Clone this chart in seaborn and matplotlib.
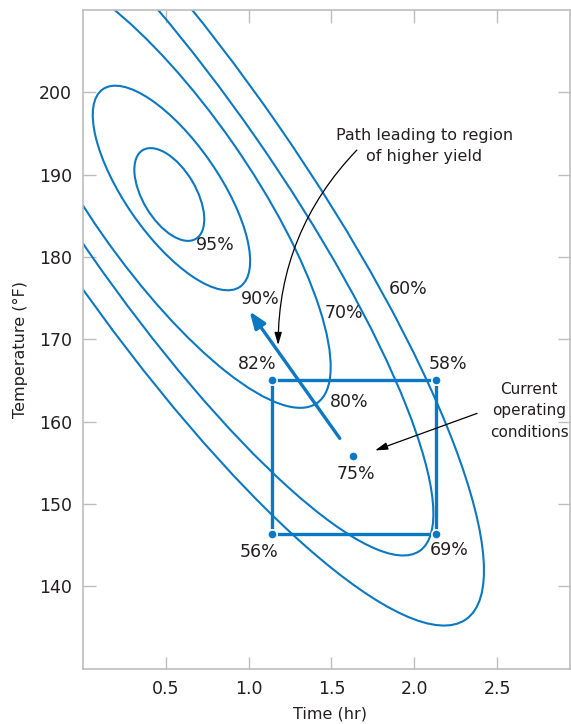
# Contours of yield with the current operating conditions and the path of steepest ascent.

import numpy as np
import matplotlib
matplotlib.use("Agg")
import matplotlib.pyplot as plt
import seaborn as sns
import pandas as pd
from matplotlib.patches import Ellipse
from matplotlib.transforms import Affine2D

# Yield contours
levels = ["95%", "90%", "80%", "70%", "60%"]
center_time = [0.521, 0.534, 0.509, 0.544, 0.546]
center_temp = [187.59, 188.38, 188.33, 187.41, 187.27]
semi_major = [0.312, 0.726, 1.580, 2.609, 3.101]   # in hours
semi_minor = [0.160, 0.283, 0.481, 0.611, 0.767]   # in hours
tilt = [-59.1, -55.2, -55.1, -55.2, -55.3]          # degrees
label_time = [0.800, 1.072, 1.606, 1.576, 1.960]
label_temp = [181.5, 174.9, 162.4, 173.25, 176.1]

# Design points around the current operating conditions
point_time = [1.14, 2.13, 1.14, 2.13, 1.63]
point_temp = [165.0, 165.0, 146.4, 146.4, 155.8]
point_yield = ["82%", "58%", "56%", "69%", "75%"]
point_label_time = [1.051, 2.204, 1.063, 2.210, 1.649]
point_label_temp = [167.0, 167.0, 144.2, 144.4, 153.6]

# Path of steepest ascent
path_time = [1.550, 1.006]
path_temp = [157.97, 173.39]

x_ticks = [0.5, 1.0, 1.5, 2.0, 2.5]
y_ticks = [140, 150, 160, 170, 180, 190, 200]

blue = "#0a78c2"
grey = "#bdbdbd"
ink = "#231f20"
K = 20.12   # degrees F that take the same length on screen as one hour

sns.set_style("ticks")
plt.rcParams["font.family"] = ["DejaVu Sans"]

fig = plt.figure(figsize=(5.71, 7.24), dpi=100)
ax = fig.add_axes([83 / 571, (724 - 668.6) / 724, (570 - 83) / 571, (668.6 - 10) / 724])

# Contours
iso = Affine2D().scale(1, K) + ax.transData
for i in range(len(levels)):
    ax.add_patch(Ellipse((center_time[i], center_temp[i] / K), 2 * semi_major[i], 2 * semi_minor[i],
                         angle=tilt[i], fill=False, ec=blue, lw=1.5, transform=iso))
    ax.text(label_time[i], label_temp[i], levels[i], ha="center", va="center", fontsize=12.5, color=ink)

# Box joining the four corner points
box = pd.DataFrame({
    "time": [point_time[0], point_time[1], point_time[3], point_time[2], point_time[0]],
    "temp": [point_temp[0], point_temp[1], point_temp[3], point_temp[2], point_temp[0]],
})
sns.lineplot(data=box, x="time", y="temp", sort=False, estimator=None, color=blue, lw=2.4, ax=ax)

pts = pd.DataFrame({"time": point_time, "temp": point_temp})
sns.scatterplot(data=pts, x="time", y="temp", color=blue, s=45, edgecolor="white", linewidth=1.2,
                zorder=5, ax=ax)
for i in range(len(point_yield)):
    ax.text(point_label_time[i], point_label_temp[i], point_yield[i], ha="center", va="center",
            fontsize=12.5, color=ink)

# Path of steepest ascent
ax.annotate("", xy=(path_time[1], path_temp[1]), xytext=(path_time[0], path_temp[0]),
            arrowprops=dict(arrowstyle="-|>,head_length=1.0,head_width=0.38", color=blue, lw=2.4,
                            shrinkA=0, shrinkB=0, mutation_scale=10))

# Call-outs
ax.text(2.059, 193.5, "Path leading to region\nof higher yield", ha="center", va="center",
        fontsize=11.5, color=ink, linespacing=1.45)
ax.annotate("", xy=(1.178, 169.3), xytext=(1.653, 192.98),
            arrowprops=dict(arrowstyle="-|>,head_length=0.75,head_width=0.22", color="black", lw=0.9,
                            shrinkA=0, shrinkB=0, mutation_scale=10,
                            connectionstyle="arc3,rad=0.2"))
ax.text(2.693, 161.3, "Current\noperating\nconditions", ha="center", va="center",
        fontsize=11, color=ink, linespacing=1.55)
ax.annotate("", xy=(1.763, 156.5), xytext=(2.379, 161.0),
            arrowprops=dict(arrowstyle="-|>,head_length=0.75,head_width=0.22", color="black", lw=0.9,
                            shrinkA=0, shrinkB=0, mutation_scale=10))

ax.set_xlim(0, 2.94)
ax.set_ylim(130, 210)
ax.set_xticks(x_ticks)
ax.set_yticks(y_ticks)
ax.set_xticklabels([f"{t:.1f}" for t in x_ticks])
ax.set_yticklabels([str(t) for t in y_ticks])
ax.tick_params(direction="in", length=9, width=1, color=grey, labelsize=12.5, labelcolor=ink,
               top=True, right=True, pad=8)
for s in ax.spines.values():
    s.set_color(grey)
    s.set_linewidth(1.2)

ax.set_xlabel("Time (hr)", fontsize=11.5, color=ink)
ax.set_ylabel("Temperature (°F)", fontsize=11.5, color=ink)
ax.xaxis.set_label_coords(0.508, -0.058)
ax.yaxis.set_label_coords(-0.113, 0.484)

fig.savefig("out.png")
